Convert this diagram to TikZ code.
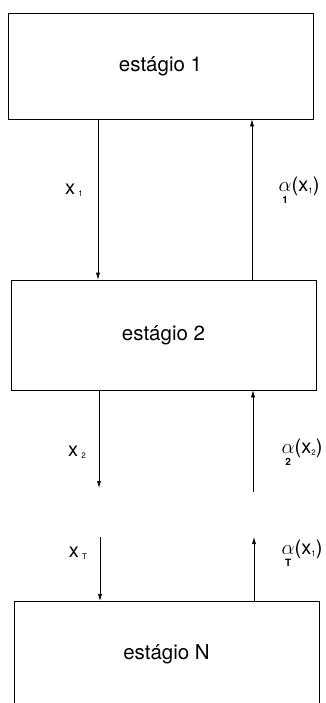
\documentclass[tikz,border=0pt]{standalone}
\usepackage{amsmath}
\usepackage{fontspec}
\setmainfont{TeX Gyre Heros}
\usetikzlibrary{arrows.meta}
\newcommand{\sbs}[1]{{\fontsize{8}{8}\selectfont\raisebox{-2pt}{#1}}}
\newcommand{\alab}[2]{$\underset{\scriptscriptstyle\mathbf{#1}}{\alpha}$(x\sbs{#2})}
\begin{document}
\begin{tikzpicture}[x=1pt,y=-1pt,
  stagebox/.style={draw,line width=0.6pt,minimum width=305pt,inner sep=0pt,font=\fontsize{20.5}{24}\selectfont},
  flow/.style={line width=0.6pt,-{Latex[length=7pt,width=4pt]}},
  lab/.style={font=\fontsize{20}{24}\selectfont,inner sep=0pt}]
\useasboundingbox (0,0) rectangle (326,703);
\clip (0,0) rectangle (326,703);
\fill[white] (0,0) rectangle (326,703);
\node[stagebox,minimum height=106pt] (b1) at (160.5,66) {estágio 1};
\node[stagebox,minimum height=110pt] (b2) at (163.5,335) {estágio 2};
\node[stagebox,minimum height=106pt,anchor=north] (bN) at (166.5,601) {estágio N};
\coordinate (L) at (98,0);
\coordinate (R) at (252,0);
\coordinate (x2end) at (99,488);
\coordinate (a2start) at (253,492);
\coordinate (xTstart) at (100,537);
\coordinate (aTend) at (254,537);
\draw[flow] (b1.south -| L) -- (b2.north -| L);
\draw[flow] (b2.north -| R) -- (b1.south -| R);
\draw[flow] (b2.south -| x2end) -- (x2end);
\draw[flow] (a2start) -- (b2.south -| a2start);
\draw[flow] (xTstart) -- (bN.north -| xTstart);
\draw[flow] (bN.north -| aTend) -- (aTend);
\node[lab] (lx1) at (74,190) {x\,\sbs{1}};
\node[lab] (la1) at (299,191) {\alab{1}{1}};
\node[lab] (lx2) at (77,452) {x\,\sbs{2}};
\node[lab] (la2) at (302,453) {\alab{2}{2}};
\node[lab] (lxT) at (78,553) {x\,\sbs{T}};
\node[lab] (laT) at (302,554) {\alab{T}{1}};
\end{tikzpicture}
\end{document}
